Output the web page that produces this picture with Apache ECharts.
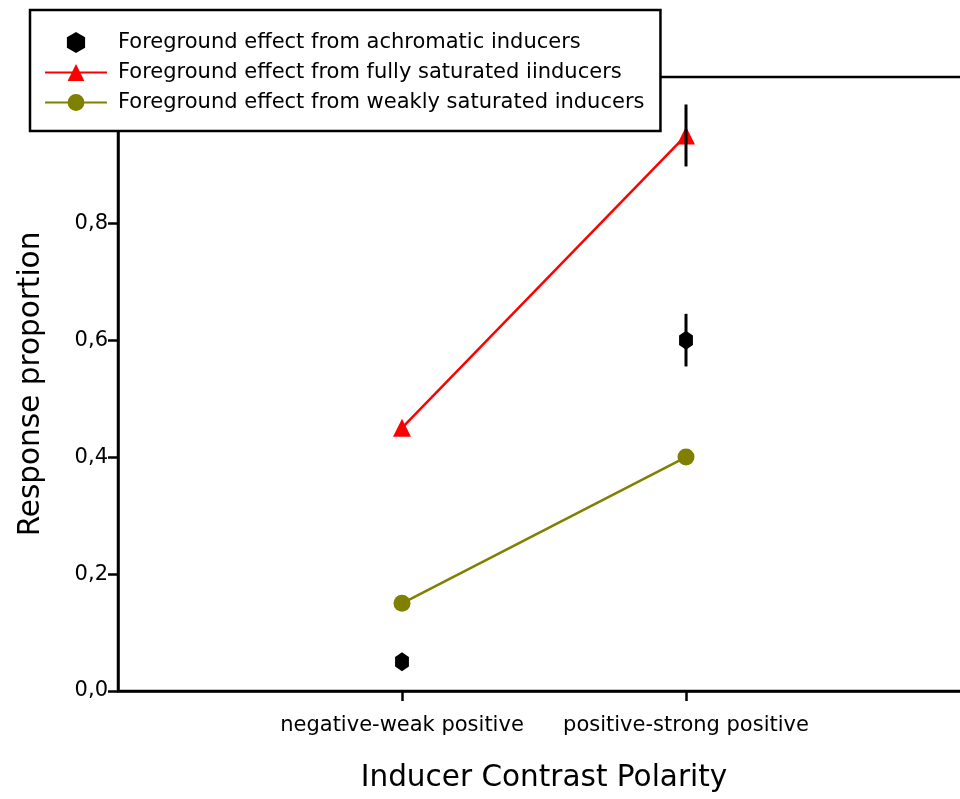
<!DOCTYPE html>
<html>
<head>
<meta charset="utf-8">
<style>
    html, body { margin: 0; padding: 0; background: #fff; }
    #chart { width: 960px; height: 799px; }
</style>
<script src="https://cdn.jsdelivr.net/npm/echarts@6/dist/echarts.min.js"></script>
</head>
<body>
<div id="chart"></div>
<script>
    // category slots: 0 and 3 are empty padding at the axis ends
    var categories = ['', 'negative-weak positive', 'positive-strong positive', ''];

    var achromatic = [[1, 0.05], [2, 0.60]];
    var achromaticErr = [0, 0.045];
    var saturated = [[1, 0.45], [2, 0.95]];
    var saturatedErr = [0, 0.053];
    var weak = [[1, 0.15], [2, 0.40]];

    var seriesNames = [
        'Foreground effect from achromatic inducers',
        'Foreground effect from fully saturated iinducers',
        'Foreground effect from weakly saturated inducers'
    ];

    var hexagon = 'path://M0,-10 L8.66,-5 L8.66,5 L0,10 L-8.66,5 L-8.66,-5 Z';
    var font = '"DejaVu Sans", sans-serif';

    // error bar rows [x, low, high] built from values + errors
    function errRows(points, errs) {
        var rows = [];
        points.forEach(function (p, i) {
            if (errs[i] > 0) {
                rows.push([p[0], p[1] - errs[i], p[1] + errs[i]]);
            }
        });
        return rows;
    }

    function renderErr(params, api) {
        var top = api.coord([api.value(0), api.value(2)]);
        var bottom = api.coord([api.value(0), api.value(1)]);
        return {
            type: 'line',
            shape: { x1: top[0], y1: top[1], x2: bottom[0], y2: bottom[1] },
            style: { stroke: '#000', lineWidth: 3 }
        };
    }

    var chart = echarts.init(document.getElementById('chart'));

    chart.setOption({
        backgroundColor: '#fff',
        animation: false,
        grid: {
            left: 118,
            top: 77,
            bottom: 108,
            right: -10,
            outerBoundsMode: 'none',
            show: true,
            borderColor: '#000',
            borderWidth: 2.5
        },
        legend: {
            orient: 'vertical',
            left: 30,
            top: 10,
            backgroundColor: '#fff',
            borderColor: '#000',
            borderWidth: 2.5,
            borderRadius: 0,
            padding: [22, 16, 18, 14],
            itemWidth: 62,
            itemHeight: 21,
            itemGap: 9,
            textStyle: { fontSize: 21, color: '#000', fontFamily: font, padding: [0, 0, 0, 6] },
            data: seriesNames
        },
        xAxis: {
            type: 'category',
            data: categories,
            boundaryGap: false,
            axisLine: { lineStyle: { color: '#000', width: 2.5 } },
            axisTick: {
                length: 10,
                lineStyle: { color: '#000', width: 2.5 },
                interval: function (index, value) { return value !== ''; }
            },
            axisLabel: {
                interval: 0,
                margin: 24,
                fontSize: 21,
                color: '#000',
                fontFamily: font
            },
            splitLine: { show: false },
            name: 'Inducer Contrast Polarity',
            nameLocation: 'middle',
            nameGap: 72,
            nameTextStyle: { fontSize: 29.5, color: '#000', fontFamily: font }
        },
        yAxis: {
            type: 'value',
            min: 0,
            max: 1.05,
            interval: 0.2,
            axisLine: { show: true, lineStyle: { color: '#000', width: 2.5 } },
            axisTick: { show: true, length: 10, lineStyle: { color: '#000', width: 2.5 } },
            axisLabel: {
                margin: 10,
                fontSize: 21,
                color: '#000',
                fontFamily: font,
                formatter: function (v) {
                    if (v > 1.001) return '';
                    return v.toFixed(1).replace('.', ',');
                }
            },
            splitLine: { show: false },
            name: 'Response proportion',
            nameLocation: 'middle',
            nameGap: 72,
            nameTextStyle: { fontSize: 29.5, color: '#000', fontFamily: font }
        },
        series: [
            {
                name: seriesNames[0],
                type: 'scatter',
                data: achromatic,
                symbol: hexagon,
                symbolSize: [16, 19],
                symbolKeepAspect: true,
                itemStyle: { color: '#000', opacity: 1 },
                z: 5
            },
            {
                name: seriesNames[1],
                type: 'line',
                data: saturated,
                symbol: 'triangle',
                symbolSize: 18,
                lineStyle: { color: '#ff0000', width: 2.5 },
                itemStyle: { color: '#ff0000' },
                z: 4
            },
            {
                name: seriesNames[2],
                type: 'line',
                data: weak,
                symbol: 'circle',
                symbolSize: 17,
                lineStyle: { color: '#7f8000', width: 2.5 },
                itemStyle: { color: '#808000' },
                z: 4
            },
            {
                type: 'custom',
                renderItem: renderErr,
                data: errRows(achromatic, achromaticErr),
                z: 6
            },
            {
                type: 'custom',
                renderItem: renderErr,
                data: errRows(saturated, saturatedErr),
                z: 6
            }
        ]
    });
</script>
</body>
</html>
